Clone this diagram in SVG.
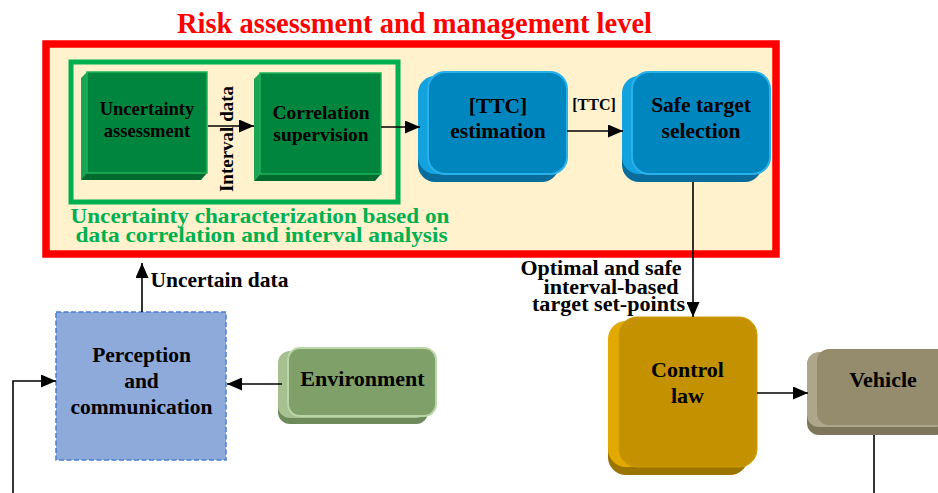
<svg xmlns="http://www.w3.org/2000/svg" width="938" height="493" viewBox="0 0 938 493">
<defs>
<marker id="ah" markerWidth="15" markerHeight="13" refX="15" refY="6.5" orient="auto" markerUnits="userSpaceOnUse">
<path d="M0,0 L15,6.5 L0,13 z" fill="#000"/>
</marker>
<style>
text{font-family:"Liberation Serif","Times New Roman",serif;font-weight:bold;fill:#000;text-anchor:middle}
.conn{fill:none;stroke:#000;stroke-width:1.6}
.lbl{font-size:21.5px}
.cap{font-size:22px;fill:#00b050}
.g1{fill:#1aa453}.g2{fill:#006a2f}.g3{fill:#00853e;stroke:#1db45a;stroke-width:1.5}
.b1{fill:#0a6c9a}.b2{fill:#14a2de}.b3{fill:#0086be;stroke:#28b1ea;stroke-width:2}
</style>
</defs>
<rect x="0" y="0" width="938" height="493" fill="#fff"/>
<text x="414.5" y="33" style="font-size:28.5px;fill:#ff0000">Risk assessment and management level</text>
<rect id="risk-level" x="46" y="44" width="730" height="210" fill="#fff2cc" stroke="#ff0000" stroke-width="7.5"/>
<g id="uncertainty-characterization">
<rect x="71" y="62" width="327" height="140" fill="none" stroke="#00b050" stroke-width="5"/>
<text class="cap" x="260" y="223" textLength="379" lengthAdjust="spacingAndGlyphs">Uncertainty characterization based on</text>
<text class="cap" x="261.5" y="241.5" textLength="372" lengthAdjust="spacingAndGlyphs">data correlation and interval analysis</text>
</g>
<g id="uncertainty-assessment">
<polygon class="g1" points="81,78 87,72 87,174 81,180"/>
<polygon class="g2" points="81,180 87,173 207,173 201,180"/>
<rect class="g3" x="87" y="72" width="120" height="101"/>
<text x="147" y="115" style="font-size:18.5px">Uncertainty</text>
<text x="147" y="136.5" style="font-size:18.5px">assessment</text>
</g>
<g id="correlation-supervision">
<polygon class="g1" points="254,79 260,73 260,174 254,181"/>
<polygon class="g2" points="254,181 260,174 381,174 375,181"/>
<rect class="g3" x="260" y="73" width="121" height="101"/>
<text x="321" y="119" style="font-size:19.5px">Correlation</text>
<text x="321" y="140.5" style="font-size:19.5px">supervision</text>
</g>
<g id="ttc-estimation">
<rect class="b1" x="418" y="80" width="141" height="102" rx="17"/>
<rect class="b2" x="418" y="76" width="141" height="98" rx="17"/>
<rect class="b3" x="428" y="72" width="139" height="102" rx="17"/>
<text class="lbl" x="498" y="113">[TTC]</text>
<text class="lbl" x="498" y="138">estimation</text>
</g>
<g id="safe-target-selection">
<rect class="b1" x="622" y="80" width="140" height="102" rx="17"/>
<rect class="b2" x="622" y="76" width="140" height="98" rx="17"/>
<rect class="b3" x="632" y="72" width="138" height="102" rx="17"/>
<text class="lbl" x="701" y="112">Safe target</text>
<text class="lbl" x="701" y="137.5">selection</text>
</g>
<g id="perception-communication">
<rect x="56" y="312" width="170" height="148" fill="#8eaadb" stroke="#4a7fd4" stroke-width="1.5" stroke-dasharray="5,2.5"/>
<text class="lbl" x="141.5" y="361.5">Perception</text>
<text class="lbl" x="141.5" y="388">and</text>
<text class="lbl" x="141.5" y="414">communication</text>
</g>
<g id="environment">
<rect x="278" y="353" width="150" height="71" rx="12" fill="#6d8a5a"/>
<rect x="278" y="351" width="150" height="67" rx="12" fill="#a6c18f"/>
<rect x="288" y="348" width="148" height="68" rx="12" fill="#80a06a" stroke="#bad6a6" stroke-width="2"/>
<text x="362.5" y="385.5" style="font-size:22px">Environment</text>
</g>
<g id="control-law">
<rect x="608" y="324" width="140" height="151" rx="18" fill="#9b7400"/>
<rect x="608" y="321" width="140" height="146" rx="18" fill="#e2a900"/>
<rect x="619" y="317" width="138" height="150" rx="18" fill="#c49100" stroke="#cf9a00" stroke-width="1"/>
<text x="687.5" y="376.5" style="font-size:22px">Control</text>
<text x="687.5" y="402.5" style="font-size:22px">law</text>
</g>
<g id="vehicle">
<rect x="807" y="354" width="140" height="81" rx="12" fill="#7e765b"/>
<rect x="807" y="352" width="140" height="75" rx="12" fill="#aea68a"/>
<rect x="817" y="349" width="140" height="76" rx="12" fill="#958c6e"/>
<text x="883" y="386.5" style="font-size:22px">Vehicle</text>
</g>
<g id="connectors">
<path class="conn" d="M208,126 H254" marker-end="url(#ah)"/>
<path class="conn" d="M381,127 H420" marker-end="url(#ah)"/>
<path class="conn" d="M567,131 H623" marker-end="url(#ah)"/>
<path class="conn" d="M693,182 V317" marker-end="url(#ah)"/>
<path class="conn" d="M757,393 H808" marker-end="url(#ah)"/>
<path class="conn" d="M874,435 V493"/>
<path class="conn" d="M13,493 V381 H56" marker-end="url(#ah)"/>
<path class="conn" d="M282,384 H227" marker-end="url(#ah)"/>
<path class="conn" d="M142,312 V263" marker-end="url(#ah)"/>
</g>
<g id="connector-labels">
<text transform="translate(233,139) rotate(-90)" style="font-size:19px">Interval data</text>
<text x="594" y="110" style="font-size:16px">[TTC]</text>
<text class="lbl" x="150.5" y="287" style="text-anchor:start">Uncertain data</text>
<text x="601" y="275" style="font-size:20.5px" textLength="161" lengthAdjust="spacingAndGlyphs">Optimal and safe</text>
<text x="611" y="293.5" style="font-size:20.5px" textLength="135" lengthAdjust="spacingAndGlyphs">interval-based</text>
<text x="608.5" y="311" style="font-size:20.5px" textLength="153" lengthAdjust="spacingAndGlyphs">target set-points</text>
</g>
</svg>
